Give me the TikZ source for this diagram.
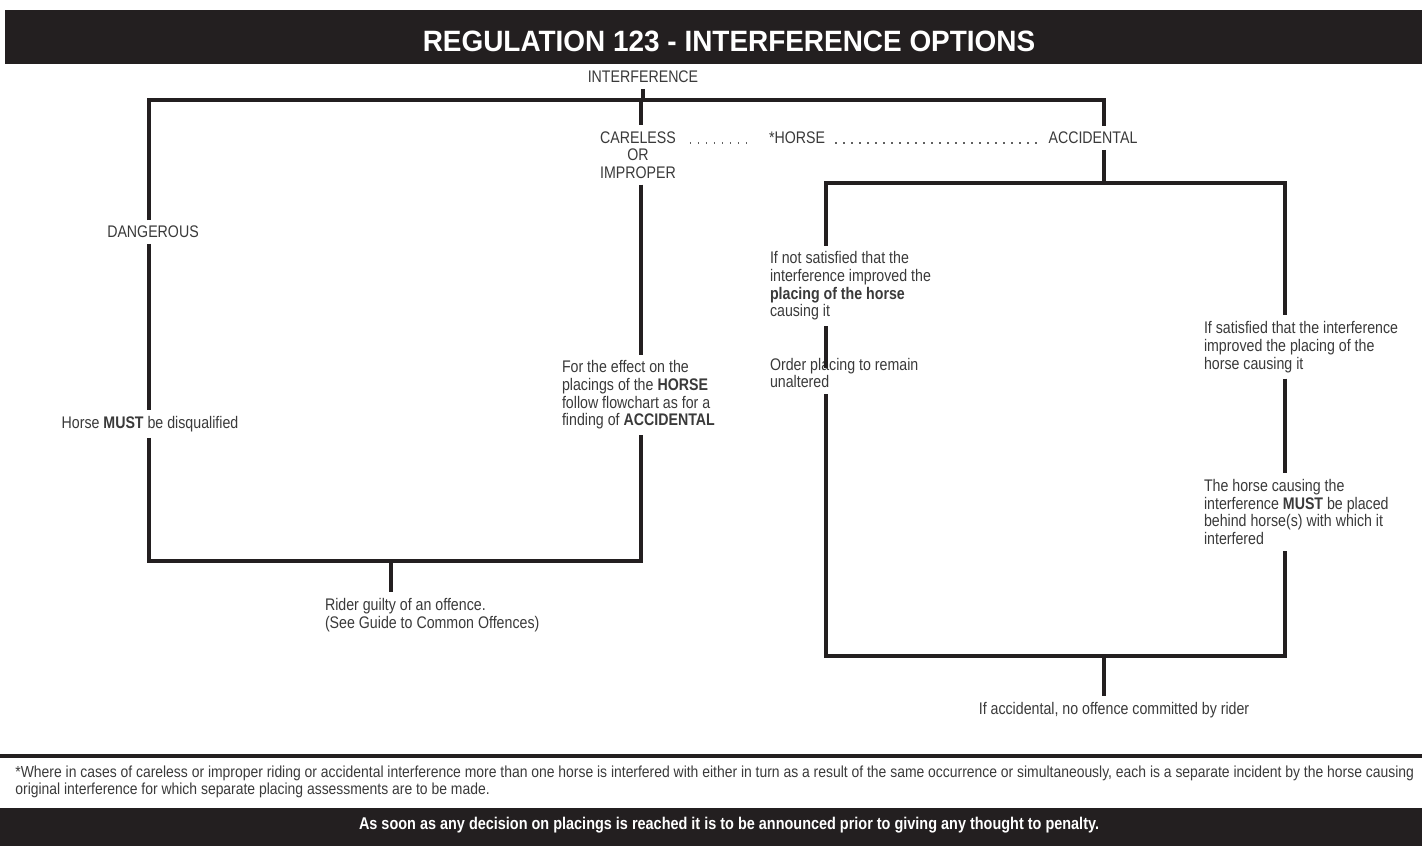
\documentclass[tikz,border=0pt]{standalone}
\usepackage{fontspec}
\setmainfont[FakeStretch=0.845]{Liberation Sans}
\newfontfamily\titlefont[FakeStretch=0.95]{Liberation Sans}
\newfontfamily\footfont[FakeStretch=0.87]{Liberation Sans}
\newfontfamily\notefont[FakeStretch=0.85]{Liberation Sans}
\definecolor{txt}{HTML}{3A3A3A}
\definecolor{barc}{HTML}{231F20}
\begin{document}
\begin{tikzpicture}[x=0.5pt,y=-0.5pt,
  lbl/.style={inner sep=0pt, outer sep=3pt, font=\fontsize{8.4}{8.85}\selectfont, text=txt, align=left},
  conn/.style={line width=1.6pt, draw=barc},
  dots/.style={line width=0.7pt, draw=txt!80, dash pattern=on 0.8pt off 3.2pt}]
\useasboundingbox (0,0) rectangle (1422,846);
% bars
\fill[barc] (5,10) rectangle (1422,64);
\node[text=white, inner sep=0pt, font=\titlefont\bfseries\fontsize{14.7}{15}\selectfont] (title) at (729,41) {REGULATION 123 - INTERFERENCE OPTIONS};
\draw[line width=1.6pt, draw=barc] (0,756) -- (1422,756);
\fill[barc] (0,808) rectangle (1422,846);
\node[text=white, inner sep=0pt, font=\notefont\bfseries\fontsize{8.5}{9}\selectfont] (note) at (729,825) {As soon as any decision on placings is reached it is to be announced prior to giving any thought to penalty.};
\node[anchor=west, inner sep=0pt, text=txt, align=left, font=\footfont\fontsize{8}{8.6}\selectfont] (foot) at (15,782) {*Where in cases of careless or improper riding or accidental interference more than one horse is interfered with either in turn as a result of the same occurrence or simultaneously, each is a separate incident by the horse causing\\original interference for which separate placing assessments are to be made.};
% coordinates
\coordinate (xL) at (149,0);
\coordinate (xM) at (641,0);
\coordinate (xR) at (391,0);
\coordinate (xA) at (1104,0);
\coordinate (xIL) at (826,0);
\coordinate (xIR) at (1285,0);
\coordinate (yt) at (0,100);
\coordinate (yb) at (0,561);
\coordinate (yt2) at (0,183);
\coordinate (yb2) at (0,656);
\coordinate (yd) at (0,143);
\coordinate (ordtick) at (826,368);
% labels
\node[lbl] (interf) at (643,77) {INTERFERENCE};
\node[lbl, align=center] (careless) at (638,155) {CARELESS\\OR\\IMPROPER};
\node[lbl] (horse) at (797,138) {*HORSE};
\node[lbl] (accid) at (1093,138) {ACCIDENTAL};
\node[lbl] (danger) at (153,232) {DANGEROUS};
\node[lbl] (disq) at (150,424) {Horse \textbf{MUST} be disqualified};
\node[lbl, anchor=west] (effect) at (556,395) {For the effect on the\\placings of the \textbf{HORSE}\\follow flowchart as for a\\finding of \textbf{ACCIDENTAL}};
\node[lbl, anchor=west] (rider) at (319,615) {Rider guilty of an offence.\\(See Guide to Common Offences)};
\node[lbl, anchor=west] (notsat) at (764,286) {If not satisfied that the\\interference improved the\\\textbf{placing of the horse}\\causing it};
\node[lbl, anchor=west] (order) at (764,373) {Order placing to remain\\unaltered};
\node[lbl, anchor=west] (satisf) at (1198,347) {If satisfied that the interference\\improved the placing of the\\horse causing it};
\node[lbl, anchor=west] (must) at (1198,512) {The horse causing the\\interference \textbf{MUST} be placed\\behind horse(s) with which it\\interfered};
\node[lbl] (noof) at (1114,710) {If accidental, no offence committed by rider};
% connectors
\draw[conn] (interf.south) -- (interf.south |- yt);
\draw[conn] (danger.north -| xL) -- (xL |- yt) -- (xA |- yt) -- (accid.north -| xA);
\draw[conn] (xM |- yt) -- (careless.north -| xM);
\draw[conn] (careless.south -| xM) -- (effect.north -| xM);
\draw[conn] (danger.south -| xL) -- (disq.north -| xL);
\draw[conn] (disq.south -| xL) -- (xL |- yb) -- (xM |- yb) -- (effect.south -| xM);
\draw[conn] (xR |- yb) -- (rider.north -| xR);
\draw[conn] (accid.south -| xA) -- (xA |- yt2);
\draw[conn] (notsat.north -| xIL) -- (xIL |- yt2) -- (xIR |- yt2) -- (satisf.north -| xIR);
\draw[conn] (notsat.south -| xIL) -- (ordtick);
\draw[conn] (order.south -| xIL) -- (xIL |- yb2) -- (xIR |- yb2) -- (must.south -| xIR);
\draw[conn] (satisf.south -| xIR) -- (must.north -| xIR);
\draw[conn] (xA |- yb2) -- (noof.north -| xA);
\draw[dots] ([xshift=4pt]careless.east |- yd) -- ([xshift=-6pt]horse.west |- yd);
\draw[dots] ([xshift=2pt]horse.east |- yd) -- ([xshift=-2pt]accid.west |- yd);
\end{tikzpicture}
\end{document}
